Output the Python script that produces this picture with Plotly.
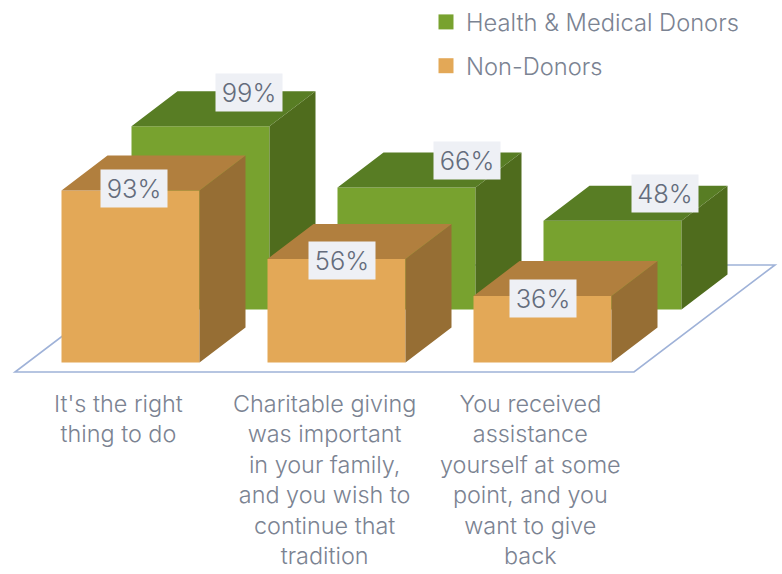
import plotly.graph_objects as go

categories = ["It's the right<br>thing to do",
              "Charitable giving<br>was important<br>in your family,<br>and you wish to<br>continue that<br>tradition",
              "You received<br>assistance<br>yourself at some<br>point, and you<br>want to give<br>back"]
health_donors = [99, 66, 48]
non_donors = [93, 56, 36]

W, H = 782, 574
PX_X = 206.0      # pixels per category
PX_Y = 1.85       # pixels per percentage point
X0_PX, Y0_PX = 130.5, 362.5
x_range = [-X0_PX / PX_X, (W - X0_PX) / PX_X]
y_range = [(Y0_PX - H) / PX_Y, Y0_PX / PX_Y]

BAR_W = 138 / PX_X
DEPTH_X, DEPTH_Y = 46 / PX_X, 35 / PX_Y
GREEN_DX, GREEN_DY = 70 / PX_X, 53 / PX_Y
TEXT = "#7b8392"
FONT = "Inter"


def polys(vals, dx, base, which):
    xs, ys = [], []
    for i, v in enumerate(vals):
        l = i + dx - BAR_W / 2
        r = i + dx + BAR_W / 2
        t = base + v
        if which == "side":
            xs += [r, r + DEPTH_X, r + DEPTH_X, r, r, None]
            ys += [base, base + DEPTH_Y, t + DEPTH_Y, t, base, None]
        else:
            xs += [l, r, r + DEPTH_X, l + DEPTH_X, l, None]
            ys += [t, t, t + DEPTH_Y, t + DEPTH_Y, t, None]
    return xs, ys


def series(name, vals, dx, base, front, side, top, xa, ya):
    out = [go.Bar(x=[i + dx for i in range(len(vals))], y=vals, base=base,
                  width=BAR_W, marker=dict(color=front, line=dict(width=0)),
                  showlegend=False, hoverinfo="skip", xaxis=xa, yaxis=ya)]
    for which, col in (("side", side), ("top", top)):
        xs, ys = polys(vals, dx, base, which)
        out.append(go.Scatter(x=xs, y=ys, mode="lines", fill="toself", fillcolor=col,
                              line=dict(width=0, color=col), showlegend=False,
                              hoverinfo="skip", xaxis=xa, yaxis=ya))
    out.append(go.Scatter(x=[None], y=[None], mode="markers", name=name, legendgroup=name,
                          marker=dict(symbol="square", size=15, color=front),
                          xaxis=xa, yaxis=ya))
    return out


fig = go.Figure()
fig.add_traces(series("Health & Medical Donors", health_donors, GREEN_DX, GREEN_DY,
                      "#78a22f", "#4f6c1d", "#587d24", "x", "y"))
fig.add_traces(series("Non-Donors", non_donors, 0, 0,
                      "#e3a857", "#966e34", "#b17f3e", "x2", "y2"))

# Floor plane, behind every bar
fl = x_range[0] + 15 / PX_X
fr = x_range[0] + 634 / PX_X
fb = (Y0_PX - 372) / PX_Y
ft = (Y0_PX - 265) / PX_Y
skew = 141 / PX_X
fig.add_shape(type="path", xref="x", yref="y", layer="below",
              path=f"M{fl},{fb} L{fr},{fb} L{fr + skew},{ft} L{fl + skew},{ft} Z",
              line=dict(color="#9fb2d8", width=1.6), fillcolor="white")

# Value labels (offset from the bar's top-front centre, in pixels)
label_offsets_green = [(48, -34), (60, -27), (52, -27)]
label_offsets_orange = [(3.5, -2), (5, 2), (0, 3)]
for vals, dx, base, offs in ((health_donors, GREEN_DX, GREEN_DY, label_offsets_green),
                             (non_donors, 0, 0, label_offsets_orange)):
    for i, v in enumerate(vals):
        fig.add_annotation(x=i + dx, y=base + v, xref="x", yref="y", text=f"{v}%",
                           xshift=offs[i][0], yshift=-offs[i][1], showarrow=False,
                           width=66, height=37, bgcolor="#eef0f5", borderpad=0,
                           font=dict(family=FONT, size=25.5, weight=300, color="#646c7c"))

# Category labels
for i, c in enumerate(categories):
    fig.add_annotation(x=i, y=(Y0_PX - 387) / PX_Y, xref="x", yref="y", text=c,
                       xshift=-12, yanchor="top", showarrow=False, align="center",
                       font=dict(family=FONT, size=23.4, weight=300, color=TEXT))

axis = dict(visible=False, fixedrange=True)
fig.update_layout(
    width=W, height=H, autosize=False,
    margin=dict(l=0, r=0, t=0, b=0, autoexpand=False),
    paper_bgcolor="white", plot_bgcolor="white",
    barmode="overlay",
    xaxis=dict(range=x_range, **axis),
    yaxis=dict(range=y_range, **axis),
    xaxis2=dict(range=x_range, overlaying="x", **axis),
    yaxis2=dict(range=y_range, overlaying="y", **axis),
    legend=dict(x=426 / W, y=1, xanchor="left", yanchor="top",
                bgcolor="rgba(0,0,0,0)", tracegroupgap=10,
                font=dict(family=FONT, size=23.7, weight=300, color=TEXT)),
)
fig.write_html("out.html", config={"displayModeBar": False},
               post_script="document.body.style.margin='0';")
